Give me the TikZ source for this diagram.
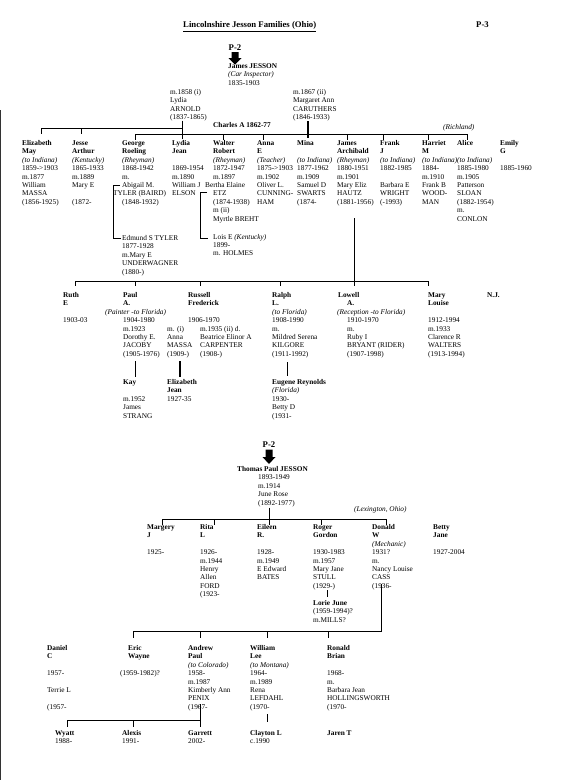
\documentclass[tikz,border=0pt]{standalone}
\usepackage{fontspec}
\setmainfont{Liberation Serif}
\newcommand\stk[1]{\begin{tabular}[t]{@{}l@{}}#1\end{tabular}}
\newcommand\nm[1]{\textbf{#1}}
\tikzset{
  txt/.style={anchor=base west, inner sep=0pt, font=\fontsize{7.3}{8.4}\selectfont},
  hdr/.style={anchor=base west, inner sep=0pt, font=\fontsize{8.7}{10}\selectfont\bfseries},
  ln/.style={line width=0.8pt},
  thk/.style={line width=1.8pt},
  blk/.style={fill=black},
}
\begin{document}
\begin{tikzpicture}[x=1pt,y=-1pt]
\useasboundingbox (0,0) rectangle (567,780);
\fill[white] (0,0) rectangle (567,780);
\draw[line width=1.4pt, black!80] (0.7,110) -- (0.7,780);

% ---------- header ----------
\node[hdr] (title) at (183,27.5) {\underline{Lincolnshire Jesson Families (Ohio)}};
\node[hdr] (p3) at (476,27.5) {P-3};
\node[hdr, anchor=base] (p2a) at (235,50.5) {P-2};
\fill[blk] (231.5,52) -- (238.5,52) -- (238.5,58) -- (241.5,58) -- (235,64.5) -- (228.5,58) -- (231.5,58) -- cycle;
\node[txt] (james) at (228,68.5) {\stk{\nm{James JESSON}\\ \textit{(Car Inspector)}\\ 1835-1903}};
\node[txt] (lydiaa) at (170,94.5) {\stk{m.1858 (i)\\ Lydia\\ ARNOLD\\ (1837-1865)}};
\node[txt] (marg) at (293,94.5) {\stk{m.1867 (ii)\\ Margaret Ann\\ CARUTHERS\\ (1846-1933)}};
\node[txt] (charles) at (213,127.5) {\nm{Charles A 1862-77}};
\node[txt] (richland) at (443,129.5) {\textit{(Richland)}};

% ---------- generation 1 connectors ----------
\coordinate (la1) at (182,120.5); \coordinate (la2) at (182,139);
\coordinate (ua) at (41,128); \coordinate (ub) at (182,128);
\coordinate (ba) at (135,134); \coordinate (bb) at (467,134);
\coordinate (mg1) at (308,121); \coordinate (mg2) at (308,138);
\draw[ln] (la1) -- (la2);
\draw[ln] (ua) -- (ub);
\draw[ln] (ba) -- (bb);
\draw[thk] (mg1) -- (mg2);
\foreach \x in {41,81} \draw[ln] (\x,128) -- (\x,133.5);
\foreach \x in {135,223,263,347,383,428,467} \draw[ln] (\x,134) -- (\x,139.5);

% ---------- generation 1 ----------
\node[txt] (eliz) at (22,145.5) {\stk{\nm{Elizabeth}\\ \nm{May}\\ \textit{(to Indiana)}\\ 1859->1903\\ m.1877\\ William\\ MASSA\\ (1856-1925)}};
\node[txt] (jesse) at (72,145.5) {\stk{\nm{Jesse}\\ \nm{Arthur}\\ \textit{(Kentucky)}\\ 1865-1933\\ m.1889\\ Mary E\\ \\ (1872-}};
\node[txt] (george) at (122,145.5) {\stk{\nm{George}\\ \nm{Roeling}\\ \textit{(Rheyman)}\\ 1868-1942\\ m.\\ Abigail M.\\ \hspace*{-9pt}TYLER (BAIRD)\\ (1848-1932)}};
\node[txt] (edmund) at (122,240.5) {\stk{Edmund S TYLER\\ 1877-1928\\ m.Mary E\\ UNDERWAGNER\\ (1880-)}};
\node[txt] (lydiaj) at (172,145.5) {\stk{\nm{Lydia}\\ \nm{Jean}\\ \\ 1869-1954\\ m.1890\\ William J\\ ELSON}};
\node[txt] (walter) at (213,145.5) {\stk{\nm{Walter}\\ \nm{Robert}\\ \textit{(Rheyman)}\\ 1872-1947\\ m.1897\\ \hspace*{-8pt}Bertha Elaine\\ ETZ\\ (1874-1938)\\ m (ii)\\ Myrtle BREHT}};
\node[txt] (lois) at (213,239) {\stk{Lois E \textit{(Kentucky)}\\ 1899-\\ m. HOLMES}};
\node[txt] (anna) at (257,145.5) {\stk{\nm{Anna}\\ \nm{E}\\ \textit{(Teacher)}\\ 1875->1903\\ m.1902\\ Oliver L.\\ CUNNING-\\ HAM}};
\node[txt] (mina) at (297,145.5) {\stk{\nm{Mina}\\ \\ \textit{(to Indiana)}\\ 1877-1962\\ m.1909\\ Samuel D\\ SWARTS\\ (1874-}};
\node[txt] (jamesa) at (337,145.5) {\stk{\nm{James}\\ \nm{Archibald}\\ \textit{(Rheyman)}\\ 1880-1951\\ m.1901\\ Mary Eliz\\ HAUTZ\\ (1881-1956)}};
\node[txt] (frank) at (380,145.5) {\stk{\nm{Frank}\\ \nm{J}\\ \textit{(to Indiana)}\\ 1882-1985\\ \\ Barbara E\\ WRIGHT\\ (-1993)}};
\node[txt] (harriet) at (422,145.5) {\stk{\nm{Harriet}\\ \nm{M}\\ \textit{(to Indiana)}\\ 1884-\\ m.1910\\ Frank B\\ WOOD-\\ MAN}};
\node[txt] (alice) at (457,145.5) {\stk{\nm{Alice}\\ \\ \textit{(to Indiana)}\\ 1885-1980\\ m.1905\\ Patterson\\ SLOAN\\ (1882-1954)\\ m.\\ CONLON}};
\node[txt] (emily) at (500,145.5) {\stk{\nm{Emily}\\ \nm{G}\\ \\ 1885-1960}};

% brackets
\coordinate (gb1) at (120,185); \coordinate (gb2) at (113,185);
\coordinate (gb3) at (113,238); \coordinate (gb4) at (121,238);
\draw[ln] (gb1) -- (gb2) -- (gb3) -- (gb4);
\coordinate (wb1) at (207,192); \coordinate (wb2) at (200,192);
\coordinate (wb3) at (200,238); \coordinate (wb4) at (208,238);
\draw[ln] (wb1) -- (wb2) -- (wb3) -- (wb4);

% ---------- generation 2 connectors ----------
\coordinate (ja1) at (354,218); \coordinate (ja2) at (354,286);
\coordinate (ca) at (75,281); \coordinate (cb) at (428,281);
\draw[ln] (ja1) -- (ja2);
\draw[ln] (ca) -- (cb);
\foreach \x in {75,135,200,280,428} \draw[ln] (\x,281) -- (\x,286);

% ---------- generation 2 ----------
\node[txt] (ruth) at (63,297.5) {\stk{\nm{Ruth}\\ \nm{E}\\ \\ 1903-03}};
\node[txt] (paul) at (123,297.5) {\stk{\nm{Paul}\\ \nm{A.}\\ \hspace*{-18pt}\textit{(Painter -to Florida)}\\ 1904-1980\\ m.1923\\ Dorothy E.\\ JACOBY\\ (1905-1976)}};
\node[txt] (russell) at (188,297.5) {\stk{\nm{Russell}\\ \nm{Frederick}\\ \\ 1906-1970}};
\node[txt] (russm1) at (167,331.1) {\stk{m. (i)\\ Anna\\ MASSA\\ (1909-)}};
\node[txt] (russm2) at (200,331.1) {\stk{m.1935 (ii) d.\\ Beatrice Elinor A\\ CARPENTER\\ (1908-)}};
\node[txt] (ralph) at (272,297.5) {\stk{\nm{Ralph}\\ \nm{L.}\\ \textit{(to Florida)}\\ 1908-1990\\ m.\\ Mildred Serena\\ KILGORE\\ (1911-1992)}};
\node[txt] (lowell) at (347,297.5) {\stk{\hspace*{-9pt}\nm{Lowell}\\ \nm{A.}\\ \hspace*{-10pt}\textit{(Reception -to Florida)}\\ 1910-1970\\ m.\\ Ruby I\\ BRYANT (RIDER)\\ (1907-1998)}};
\node[txt] (mary) at (428,297.5) {\stk{\nm{Mary}\\ \nm{Louise}\\ \\ 1912-1994\\ m.1933\\ Clarence R\\ WALTERS\\ (1913-1994)}};
\node[txt] (nj) at (487,297.5) {\nm{N.J.}};

\coordinate (pv1) at (135,361); \coordinate (pv2) at (135,377);
\coordinate (rv1) at (180,361); \coordinate (rv2) at (180,377);
\coordinate (lv1) at (287,362); \coordinate (lv2) at (287,376);
\draw[ln] (pv1) -- (pv2);
\draw[thk] (rv1) -- (rv2);
\draw[ln] (lv1) -- (lv2);

\node[txt] (kay) at (123,384.5) {\stk{\nm{Kay}\\ \\ m.1952\\ James\\ STRANG}};
\node[txt] (elizj) at (167,384.5) {\stk{\nm{Elizabeth}\\ \nm{Jean}\\ 1927-35}};
\node[txt] (eugene) at (272,384.5) {\stk{\nm{Eugene Reynolds}\\ \textit{(Florida)}\\ 1930-\\ Betty D\\ (1931-}};

% ---------- Thomas Paul ----------
\node[hdr, anchor=base] (p2b) at (269,447.5) {P-2};
\fill[blk] (265.5,449.5) -- (272.5,449.5) -- (272.5,457) -- (275.5,457) -- (269,464) -- (262.5,457) -- (265.5,457) -- cycle;
\node[txt] (thomas) at (237,471.5) {\nm{Thomas Paul JESSON}};
\node[txt] (thomasd) at (258,479.9) {\stk{1893-1949\\ m.1914\\ June Rose\\ (1892-1977)}};
\node[txt] (lexington) at (354,511.5) {\textit{(Lexington, Ohio)}};

\coordinate (tv1) at (269,507.5); \coordinate (tv2) at (269,525);
\coordinate (ta) at (162,519); \coordinate (tb) at (386,519);
\draw[ln] (tv1) -- (tv2);
\draw[ln] (ta) -- (tb);
\foreach \x in {162,214,321,386} \draw[ln] (\x,519) -- (\x,525);

\node[txt] (margery) at (147,529.5) {\stk{\nm{Margery}\\ \nm{J}\\ \\ 1925-}};
\node[txt] (rita) at (200,529.5) {\stk{\nm{Rita}\\ \nm{L}\\ \\ 1926-\\ m.1944\\ Henry\\ Allen\\ FORD\\ (1923-}};
\node[txt] (eileen) at (257,529.5) {\stk{\nm{Eileen}\\ \nm{R.}\\ \\ 1928-\\ m.1949\\ E Edward\\ BATES}};
\node[txt] (roger) at (313,529.5) {\stk{\nm{Roger}\\ \nm{Gordon}\\ \\ 1930-1983\\ m.1957\\ Mary Jane\\ STULL\\ (1929-)}};
\node[txt] (lorie) at (313,605.5) {\stk{\nm{Lorie June}\\ (1959-1994)?\\ m.MILLS?}};
\node[txt] (donald) at (372,529.5) {\stk{\nm{Donald}\\ \nm{W}\\ \textit{(Mechanic)}\\ 1931?\\ m.\\ Nancy Louise\\ CASS\\ (1936-}};
\node[txt] (betty) at (433,529.5) {\stk{\nm{Betty}\\ \nm{Jane}\\ \\ 1927-2004}};

\coordinate (rg1) at (327,590); \coordinate (rg2) at (327,597);
\draw[ln] (rg1) -- (rg2);
\coordinate (dv1) at (381,584); \coordinate (dv2) at (381,631);
\coordinate (da) at (133,631);
\draw[ln] (dv1) -- (dv2) -- (da);
\foreach \x in {133,200,267,328} \draw[ln] (\x,631) -- (\x,638);

% ---------- Donald's children ----------
\node[txt] (daniel) at (47,650.5) {\stk{\nm{Daniel}\\ \nm{C}\\ \\ 1957-\\ \\ Terrie L\\ \\ (1957-}};
\node[txt] (eric) at (128,650.5) {\stk{\nm{Eric}\\ \nm{Wayne}\\ \\ \hspace*{-8pt}(1959-1982)?}};
\node[txt] (andrew) at (188,650.5) {\stk{\nm{Andrew}\\ \nm{Paul}\\ \textit{(to Colorado)}\\ 1958-\\ m.1987\\ Kimberly Ann\\ PENIX\\ (1967-}};
\node[txt] (william) at (250,650.5) {\stk{\nm{William}\\ \nm{Lee}\\ \textit{(to Montana)}\\ 1964-\\ m.1989\\ Rena\\ LEFDAHL\\ (1970-}};
\node[txt] (ronald) at (327,650.5) {\stk{\nm{Ronald}\\ \nm{Brian}\\ \\ 1968-\\ m.\\ Barbara Jean\\ HOLLINGSWORTH\\ (1970-}};

\coordinate (av1) at (200,704); \coordinate (av2) at (200,720);
\coordinate (aa) at (67,720);
\draw[ln] (av1) -- (av2) -- (aa);
\foreach \x in {67,133,200} \draw[ln] (\x,720) -- (\x,727);
\coordinate (wv1) at (267,714); \coordinate (wv2) at (267,722);
\draw[ln] (wv1) -- (wv2);

\node[txt] (wyatt) at (55,735.5) {\stk{\nm{Wyatt}\\ 1988-}};
\node[txt] (alexis) at (122,735.5) {\stk{\nm{Alexis}\\ 1991-}};
\node[txt] (garrett) at (188,735.5) {\stk{\nm{Garrett}\\ 2002-}};
\node[txt] (clayton) at (250,735.5) {\stk{\nm{Clayton L}\\ c.1990}};
\node[txt] (jaren) at (327,735.5) {\nm{Jaren T}};
\end{tikzpicture}
\end{document}
